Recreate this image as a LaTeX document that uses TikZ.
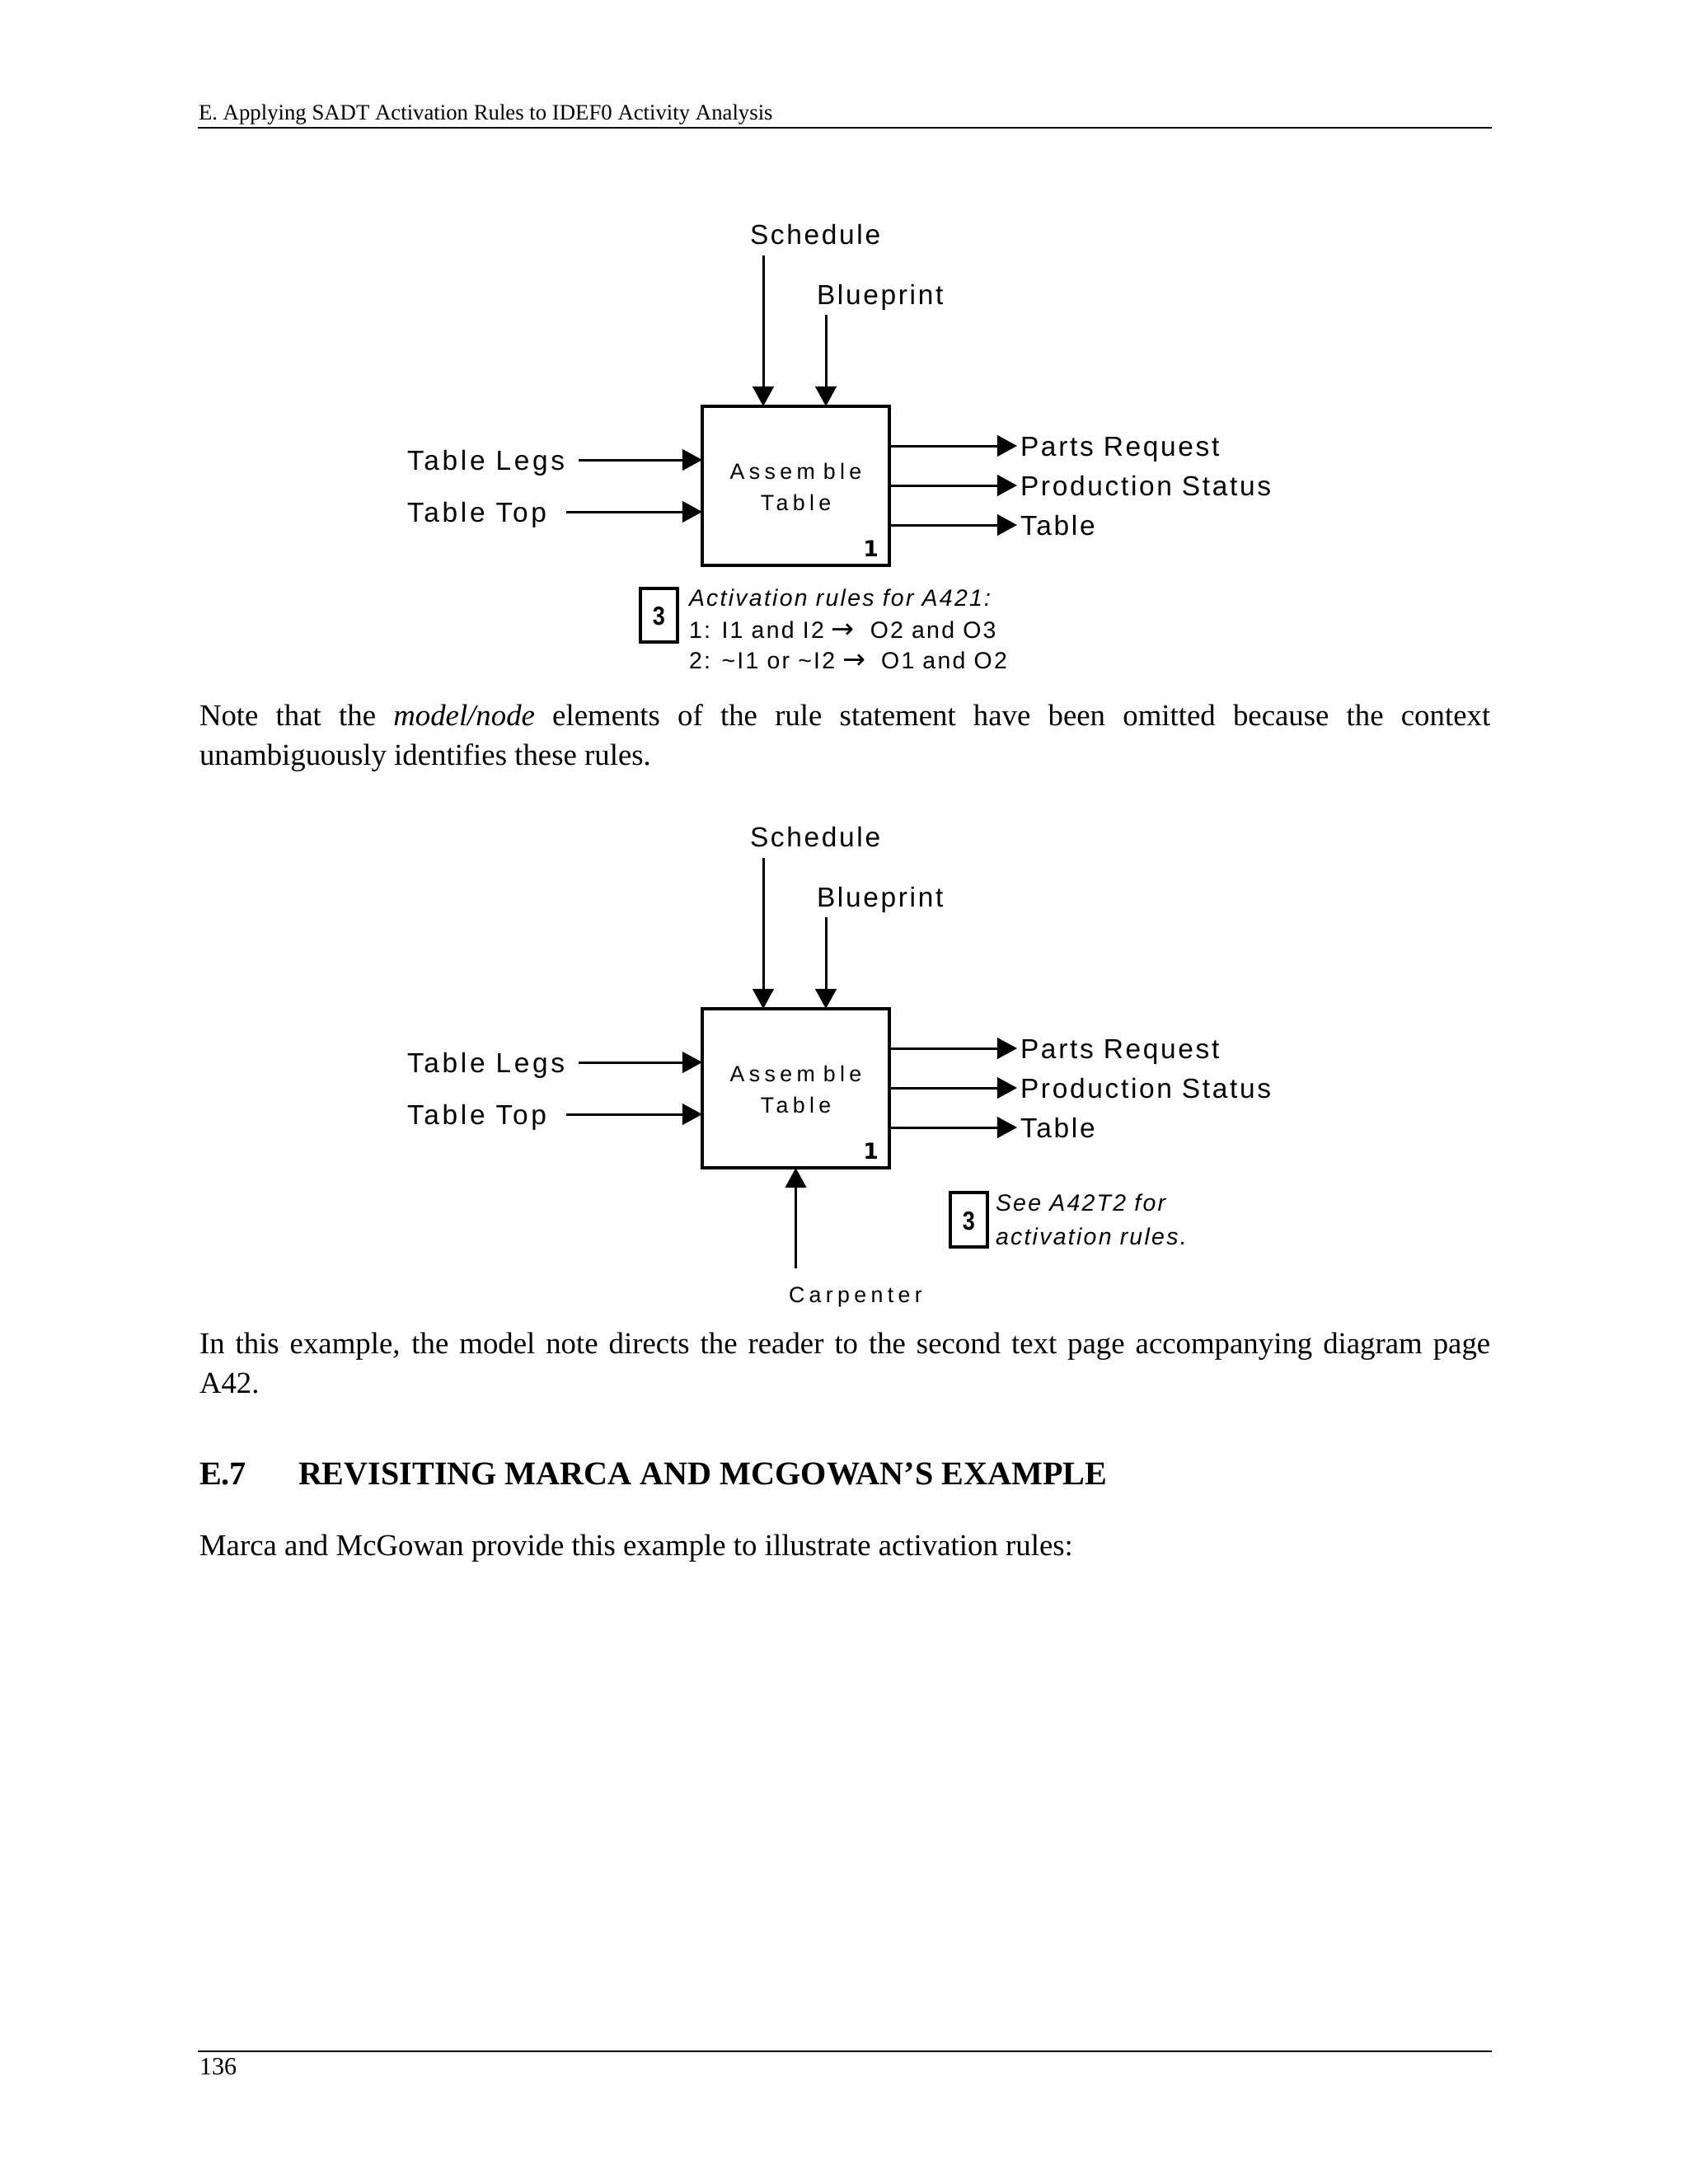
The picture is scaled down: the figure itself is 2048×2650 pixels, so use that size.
\documentclass[tikz,border=0pt]{standalone}
\usepackage{fontspec}
\setmainfont{Liberation Serif}
\newfontfamily\lsans[LetterSpace=8]{Liberation Sans}
\newfontfamily\lsansl[LetterSpace=11]{Liberation Sans}
\newfontfamily\lboxf[LetterSpace=20]{Liberation Sans}
\newfontfamily\lnote[LetterSpace=8]{Liberation Sans}
\newfontfamily\lnum{DejaVu Sans}
\usetikzlibrary{arrows.meta}
\newcommand\rarr{{\lnum\fontsize{10}{10}\selectfont\kern-0.4pt→\kern-0.4pt}}

\tikzset{
  every node/.style={inner sep=0pt, outer sep=0pt},
  arr/.style={line width=0.9pt, -{Triangle[length=7.2pt,width=7.6pt]}},
  lab/.style={font=\lsans\fontsize{10}{12}\selectfont, text height=7.3pt, text depth=0pt},
  lableft/.style={font=\lsansl\fontsize{10}{12}\selectfont, anchor=base west},
  labright/.style={lab, anchor=west, outer sep=1.2pt},
  toplab/.style={font=\lsans\fontsize{10}{12}\selectfont, anchor=base west},
  actbox/.style={draw, line width=1pt},
  boxtext/.style={font=\lboxf\fontsize{8}{11.4}\selectfont, anchor=base},
  boxnum/.style={font=\lnum\bfseries\fontsize{8}{9}\selectfont, anchor=base east},
  notebox/.style={draw, line width=1pt},
  notenum/.style={font=\lnote\bfseries\fontsize{9.5}{11}\selectfont, anchor=base, xscale=0.85},
  notetxt/.style={font=\lnote\fontsize{8.5}{11}\selectfont, anchor=base west},
  noteit/.style={notetxt, font=\lnote\itshape\fontsize{8.5}{11}\selectfont},
  body/.style={font=\fontsize{11}{13}\selectfont, anchor=base west},
  rulel/.style={line width=0.8pt}
}

\newcommand\idefpart[2]{%
\begin{scope}[shift={(0,#2)}]
  \node[actbox, minimum width=67.85pt, minimum height=57.69pt] (box#1) at (965.5,589.5) {};
  \node[boxtext] (bta#1) at (965.5,581) {\spaceskip=3pt\relax Assem ble};
  \node[boxtext] (btb#1) at (965.5,619) {Table};
  \node[boxnum] (bn#1) at (1066,675) {1};
  \node[toplab] (schl#1) at (910,296) {Schedule};
  \node[toplab] (blul#1) at (991,369) {Blueprint};
  \coordinate (sch#1) at (926,310);
  \coordinate (blu#1) at (1002,382);
  \draw[arr] (sch#1) -- (sch#1 |- box#1.north);
  \draw[arr] (blu#1) -- (blu#1 |- box#1.north);
  \node[lableft] (tl#1) at (494,570) {Table Legs};
  \node[lableft] (tt#1) at (494,633) {Table Top};
  \coordinate (tls#1) at (702,558);
  \coordinate (tts#1) at (687,621);
  \draw[arr] (tls#1) -- (tls#1 -| box#1.west);
  \draw[arr] (tts#1) -- (tts#1 -| box#1.west);
  \node[labright] (pr#1) at (1234,541) {Parts Request};
  \node[labright] (ps#1) at (1234,589) {Production Status};
  \node[labright] (tb#1) at (1234,637) {Table};
  \draw[arr] (pr#1.west -| box#1.east) -- (pr#1.west);
  \draw[arr] (ps#1.west -| box#1.east) -- (ps#1.west);
  \draw[arr] (tb#1.west -| box#1.east) -- (tb#1.west);
\end{scope}}

\begin{document}
\begin{tikzpicture}[x=0.2989pt, y=-0.2989pt]
  \fill[white] (0,0) rectangle (2048,2650);
  \useasboundingbox (0,0) rectangle (2048,2650);

  % header
  \node[anchor=base west, font=\fontsize{8}{10}\selectfont] (hd) at (241,145)
    {E. Applying SADT Activation Rules to IDEF0 Activity Analysis};
  \draw[rulel] (240,155) -- (1810,155);

  % first diagram
  \idefpart{a}{0}
  \node[notebox, minimum width=13.45pt, minimum height=19.43pt] (nba) at (799.5,746.5) {};
  \node[notenum] (nna) at (799.5,758) {3};
  \node[noteit] (ta1) at (836,735) {Activation rules for A421:};
  \node[notetxt] (ta2) at (836,774) {1: I1 and I2 \rarr\ \ O2 and O3};
  \node[notetxt] (ta3) at (836,811) {2: \char"7E I1 or \char"7E I2 \rarr\ \ O1 and O2};

  % paragraph 1
  \node[body] (p1a) at (242,880) {\makebox[468.1pt][s]{Note that the \textit{model/node} elements of the rule statement have been omitted because the context}};
  \node[body] (p1b) at (242,928) {unambiguously identifies these rules.};

  % second diagram
  \idefpart{b}{731}
  \coordinate (cpc) at (965.5,1539);
  \draw[arr] (cpc) -- (boxb.south);
  \node[boxtext, anchor=base west] (cpl) at (957,1580) {Carpenter};
  \node[notebox, minimum width=13.45pt, minimum height=19.73pt] (nbb) at (1175.5,1480) {};
  \node[notenum] (nnb) at (1175.5,1492) {3};
  \node[noteit] (tb1) at (1208,1469) {See A42T2 for};
  \node[noteit] (tb2) at (1208,1510) {activation rules.};

  % paragraph 2
  \node[body] (p2a) at (242,1642) {\makebox[468.1pt][s]{In this example, the model note directs the reader to the second text page accompanying diagram page}};
  \node[body] (p2b) at (242,1690) {A42.};

  % heading
  \node[body, font=\bfseries\fontsize{12}{14}\selectfont] (h1) at (242,1801) {E.7};
  \node[body, font=\bfseries\fontsize{12}{14}\selectfont] (h2) at (362,1801) {REVISITING MARCA AND MCGOWAN’S EXAMPLE};

  % paragraph 3
  \node[body] (p3) at (242,1887) {Marca and McGowan provide this example to illustrate activation rules:};

  % footer
  \draw[rulel] (240,2489) -- (1810,2489);
  \node[anchor=base west, font=\fontsize{9}{11}\selectfont] (pg) at (242,2517) {136};
\end{tikzpicture}
\end{document}
